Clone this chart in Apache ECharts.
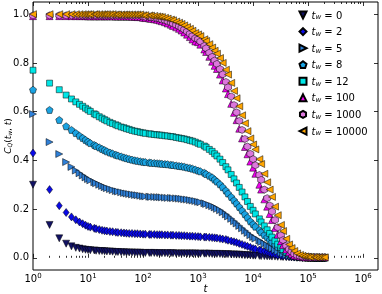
<!DOCTYPE html>
<html><head><meta charset="utf-8">
<script src="https://cdn.jsdelivr.net/npm/echarts@6/dist/echarts.min.js"></script>
<style>html,body{margin:0;padding:0;background:#fff}#c{width:382px;height:294px}</style>
</head><body><div id="c"></div><script>
// time grid (t): 1..9, then 20 points per decade
const T = [1,2,3,4,5,6,7,8,9,
  10,11,13,14,16,18,20,22,25,28,32,35,40,45,50,56,63,71,79,89,
  100,110,130,140,160,180,200,220,250,280,320,350,400,450,500,560,630,710,790,890,
  1000,1100,1300,1400,1600,1800,2000,2200,2500,2800,3200,3500,4000,4500,5000,5600,6300,7100,7900,8900,
  10000,11000,13000,14000,16000,18000,20000,22000,25000,28000,32000,35000,40000,45000,50000,56000,63000,71000,79000,89000,
  100000,110000,130000,140000,160000,180000,200000];
const TW_LABELS = ['0','2','5','8','12','100','1000','10000'];
const C_TW0 = [0.30,0.135,0.08,0.058,0.047,0.041,0.038,0.035,0.033,
  0.032,0.031,0.030,0.029,0.028,0.028,0.027,0.026,0.026,0.025,0.024,0.024,0.023,0.023,0.022,0.022,0.022,0.021,0.021,0.021,
  0.020,0.020,0.020,0.020,0.020,0.019,0.019,0.019,0.019,0.019,0.019,0.019,0.018,0.018,0.018,0.018,0.018,0.018,0.018,0.018,
  0.017,0.017,0.017,0.017,0.017,0.016,0.016,0.016,0.016,0.015,0.015,0.015,0.014,0.014,0.013,0.013,0.012,0.011,0.011,0.010,
  0.009,0.009,0.008,0.007,0.007,0.006,0.006,0.005,0.005,0.004,0.004,0.003,0.003,0.003,0.002,0.002,0.002,0.001,0.001,0.001,
  0.001,0.001,0,0,0,0,0];
const C_TW2 = [0.43,0.28,0.214,0.186,0.168,0.156,0.147,0.140,0.134,
  0.129,0.126,0.121,0.119,0.116,0.113,0.111,0.110,0.108,0.107,0.105,0.104,0.103,0.102,0.101,0.100,0.100,0.099,0.099,0.098,
  0.097,0.097,0.096,0.096,0.096,0.095,0.095,0.095,0.094,0.094,0.093,0.093,0.092,0.092,0.091,0.091,0.090,0.089,0.089,0.088,
  0.087,0.086,0.085,0.085,0.084,0.083,0.082,0.081,0.079,0.077,0.075,0.072,0.069,0.066,0.063,0.059,0.055,0.051,0.047,0.043,
  0.038,0.036,0.032,0.030,0.027,0.024,0.021,0.018,0.015,0.012,0.010,0.008,0.006,0.005,0.004,0.003,0.002,0.002,0.001,0.001,
  0.001,0,0,0,0,0,0];
const C_TW5 = [0.59,0.475,0.426,0.393,0.373,0.358,0.347,0.338,0.330,
  0.323,0.318,0.310,0.306,0.300,0.295,0.290,0.286,0.282,0.278,0.274,0.272,0.269,0.266,0.264,0.262,0.260,0.258,0.257,0.255,
  0.253,0.252,0.251,0.250,0.250,0.249,0.249,0.248,0.247,0.246,0.246,0.245,0.244,0.243,0.242,0.240,0.239,0.237,0.235,0.233,
  0.230,0.228,0.224,0.221,0.216,0.212,0.207,0.201,0.195,0.187,0.178,0.170,0.160,0.150,0.141,0.131,0.121,0.111,0.102,0.093,
  0.085,0.079,0.071,0.065,0.058,0.051,0.044,0.038,0.032,0.026,0.020,0.016,0.012,0.009,0.007,0.005,0.003,0.002,0.002,0.001,
  0.001,0.001,0,0,0,0,0];
const C_TW8 = [0.69,0.607,0.566,0.540,0.525,0.512,0.501,0.492,0.484,
  0.477,0.471,0.463,0.459,0.453,0.447,0.442,0.437,0.432,0.428,0.423,0.420,0.416,0.412,0.409,0.406,0.403,0.400,0.398,0.396,
  0.394,0.393,0.391,0.390,0.389,0.388,0.387,0.386,0.385,0.384,0.382,0.381,0.379,0.377,0.376,0.374,0.371,0.369,0.366,0.362,
  0.358,0.355,0.349,0.344,0.337,0.330,0.321,0.313,0.302,0.290,0.276,0.264,0.250,0.236,0.223,0.209,0.194,0.179,0.165,0.150,
  0.138,0.128,0.114,0.105,0.094,0.084,0.073,0.064,0.054,0.045,0.036,0.030,0.023,0.017,0.013,0.009,0.006,0.004,0.003,0.002,
  0.001,0.001,0,0,0,0,0];
const C_TW12 = [0.77,0.717,0.690,0.668,0.652,0.640,0.630,0.622,0.614,
  0.607,0.601,0.591,0.587,0.579,0.573,0.567,0.562,0.556,0.551,0.546,0.542,0.537,0.534,0.530,0.527,0.523,0.520,0.518,0.515,
  0.513,0.511,0.509,0.508,0.506,0.505,0.504,0.503,0.501,0.500,0.498,0.497,0.494,0.492,0.490,0.488,0.485,0.482,0.479,0.475,
  0.470,0.466,0.459,0.454,0.445,0.437,0.427,0.418,0.405,0.391,0.374,0.361,0.342,0.324,0.307,0.289,0.270,0.250,0.231,0.211,
  0.195,0.180,0.160,0.147,0.131,0.115,0.100,0.085,0.070,0.056,0.043,0.034,0.024,0.017,0.012,0.008,0.005,0.003,0.002,0.001,
  0.001,0,0,0,0,0,0];
const C_TW100 = [0.992,0.992,0.992,0.992,0.992,0.992,0.992,0.992,0.992,
  0.991,0.991,0.991,0.991,0.991,0.991,0.991,0.991,0.991,0.991,0.990,0.990,0.990,0.990,0.990,0.990,0.989,0.989,0.988,0.988,
  0.985,0.984,0.982,0.981,0.979,0.977,0.974,0.971,0.967,0.962,0.957,0.952,0.946,0.940,0.933,0.925,0.916,0.906,0.896,0.888,
  0.885,0.875,0.855,0.845,0.825,0.805,0.788,0.775,0.752,0.728,0.695,0.672,0.632,0.595,0.565,0.530,0.490,0.455,0.425,0.395,
  0.370,0.345,0.300,0.280,0.240,0.210,0.180,0.155,0.122,0.095,0.068,0.052,0.034,0.023,0.016,0.010,0.007,0.005,0.003,0.002,
  0.002,0.001,0.001,0.001,0.001,0.001,0.001];
const C_TW1000 = [0.995,0.995,0.995,0.995,0.995,0.995,0.995,0.995,0.995,
  0.995,0.995,0.995,0.995,0.995,0.995,0.995,0.995,0.995,0.995,0.995,0.995,0.995,0.995,0.995,0.995,0.994,0.994,0.994,0.994,
  0.990,0.989,0.988,0.987,0.985,0.983,0.981,0.978,0.975,0.971,0.966,0.962,0.956,0.950,0.944,0.937,0.929,0.920,0.911,0.901,
  0.897,0.888,0.870,0.860,0.842,0.825,0.810,0.796,0.775,0.753,0.722,0.700,0.662,0.627,0.597,0.562,0.525,0.488,0.457,0.427,
  0.405,0.380,0.340,0.320,0.280,0.245,0.215,0.190,0.155,0.125,0.092,0.073,0.050,0.035,0.025,0.016,0.010,0.007,0.005,0.004,
  0.003,0.002,0.002,0.002,0.002,0.002,0.002];
const C_TW10000 = [1.0,1.0,1.0,1.0,1.0,1.0,1.0,1.0,1.0,
  1.0,1.0,1.0,1.0,1.0,1.0,1.0,1.0,1.0,1.0,0.999,0.999,0.999,0.999,0.999,0.999,0.999,0.999,0.999,0.999,
  0.996,0.996,0.995,0.994,0.993,0.991,0.990,0.988,0.985,0.982,0.978,0.975,0.970,0.965,0.960,0.954,0.947,0.940,0.932,0.923,
  0.917,0.910,0.897,0.890,0.877,0.863,0.850,0.838,0.820,0.800,0.772,0.752,0.718,0.685,0.655,0.622,0.585,0.552,0.520,0.490,
  0.465,0.445,0.405,0.385,0.345,0.310,0.280,0.250,0.210,0.175,0.135,0.110,0.078,0.055,0.040,0.028,0.018,0.012,0.008,0.006,
  0.004,0.003,0.003,0.002,0.002,0.002,0.002];
const X_TICKS = [1,10,100,1000,10000,100000,1000000];
const X_TICK_EXP = ['0','1','2','3','4','5','6'];
const Y_TICKS = [0,0.2,0.4,0.6,0.8,1.0];
const Y_TICK_LABELS = ['0.0','0.2','0.4','0.6','0.8','1.0'];

const VALUES = [C_TW0,C_TW2,C_TW5,C_TW8,C_TW12,C_TW100,C_TW1000,C_TW10000];
const COLORS = ['#121264','#0a0ae6','#2f80d8','#1aa3e2','#00e6e6','#f000f0','#dc78dc','#ffa500'];
const TRI_DOWN = 'path://M0,10 L-10,-10 L10,-10 Z';
const TRI_RIGHT = 'path://M10,0 L-10,-10 L-10,10 Z';
const TRI_LEFT = 'path://M-10,0 L10,-10 L10,10 Z';
const PENT = 'path://M0,-10 L9.51,-3.09 L5.88,8.09 L-5.88,8.09 L-9.51,-3.09 Z';
const HEX = 'path://M0,-10 L8.66,-5 L8.66,5 L0,10 L-8.66,5 L-8.66,-5 Z';
const SYMBOLS = [TRI_DOWN,'diamond',TRI_RIGHT,PENT,'rect','triangle',HEX,TRI_LEFT];
const SIZES = [[7,7],[6,8],[7,7],[7,7],[6,6],[7,7],[7,7],[7,7]];

const minor = [];
for (let e = 0; e < 6; e++) for (let m = 2; m <= 9; m++) minor.push(m * Math.pow(10, e));

const FONT = 'DejaVu Sans';
const XMIN = 1, XMAX = 1.86e6;

function xAxisDef(pos, ticks, len, labels) {
  return {
    type: 'log', logBase: 10, min: XMIN, max: XMAX, position: pos,
    axisLine: {show: false},
    splitLine: {show: false},
    axisTick: {show: true, inside: true, length: len, customValues: ticks, lineStyle: {color: '#000', width: 0.8}},
    axisLabel: labels ? {
      show: true, customValues: X_TICKS, margin: 3,
      formatter: v => { const i = X_TICKS.indexOf(v); const idx = i >= 0 ? i : Math.round(Math.log10(v)); return '{b|10}{e|' + X_TICK_EXP[idx] + '}'; },
      rich: {
        b: {fontFamily: FONT, fontSize: 10, color: '#000', verticalAlign: 'bottom', lineHeight: 11},
        e: {fontFamily: FONT, fontSize: 7, color: '#000', verticalAlign: 'top', lineHeight: 11, padding: [0,0,3,0]}
      }
    } : {show: false}
  };
}

const series = VALUES.map((vals, k) => ({
  name: 'tw' + TW_LABELS[k],
  type: 'scatter',
  xAxisIndex: 0, yAxisIndex: 0,
  symbol: SYMBOLS[k], symbolSize: SIZES[k],
  itemStyle: {color: COLORS[k], borderColor: '#000', borderWidth: 0.5, opacity: 1},
  data: T.map((t, i) => [t, vals[i]]),
  clip: true, z: 2 + k
}));

const chart = echarts.init(document.getElementById('c'), null, {renderer: 'canvas'});
chart.setOption({
  animation: false,
  backgroundColor: '#fff',
  grid: {left: 33, right: 4, top: 2, bottom: 24, show: true, borderColor: '#000', borderWidth: 1,
    backgroundColor: 'transparent', outerBoundsMode: 'none', containLabel: false},
  xAxis: [
    Object.assign(xAxisDef('bottom', X_TICKS, 4, true), {
      name: '{i|t}', nameLocation: 'middle', nameGap: 14, nameMoveOverlap: false,
      nameTextStyle: {rich: {i: {fontFamily: FONT, fontStyle: 'italic', fontSize: 10, color: '#000'}}}
    }),
    xAxisDef('bottom', minor, 2, false),
    xAxisDef('top', X_TICKS, 4, false),
    xAxisDef('top', minor, 2, false)
  ],
  yAxis: [
    {
      type: 'value', min: -0.05, max: 1.05, position: 'left',
      axisLine: {show: false}, splitLine: {show: false},
      axisTick: {show: true, inside: true, length: 4, customValues: Y_TICKS, lineStyle: {color: '#000', width: 0.8}},
      axisLabel: {show: true, customValues: Y_TICKS, margin: 4, fontFamily: FONT, fontSize: 10, color: '#000',
        formatter: v => { const i = Y_TICKS.findIndex(y => Math.abs(y - v) < 1e-9); return i >= 0 ? Y_TICK_LABELS[i] : ''; }},
      name: '{i|C}{s|Q}{n|(}{i|t}{s|w}{n|, }{i|t}{n|)}', nameLocation: 'middle', nameGap: 20, nameRotate: 90, nameMoveOverlap: false,
      nameTextStyle: {rich: {
        i: {fontFamily: FONT, fontStyle: 'italic', fontSize: 9, color: '#000', verticalAlign: 'bottom', lineHeight: 12},
        s: {fontFamily: FONT, fontStyle: 'italic', fontSize: 6, color: '#000', verticalAlign: 'bottom', lineHeight: 9},
        n: {fontFamily: FONT, fontSize: 9, color: '#000', verticalAlign: 'bottom', lineHeight: 12}
      }}
    },
    {
      type: 'value', min: -0.05, max: 1.05, position: 'right',
      axisLine: {show: false}, splitLine: {show: false},
      axisTick: {show: true, inside: true, length: 4, customValues: Y_TICKS, lineStyle: {color: '#000', width: 0.8}},
      axisLabel: {show: false}
    }
  ],
  legend: {
    show: true, orient: 'vertical', left: 298.5, top: 10.5, padding: 0,
    itemWidth: 7, itemHeight: 7, itemGap: 6.1,
    data: series.map((s, k) => ({name: s.name, icon: SYMBOLS[k]})),
    formatter: name => '{i|t}{s|w}{n| = ' + name.slice(2) + '}',
    textStyle: {
      padding: [0,0,0,0],
      rich: {
        i: {fontFamily: FONT, fontStyle: 'italic', fontSize: 10, color: '#000', verticalAlign: 'bottom', lineHeight: 12},
        s: {fontFamily: FONT, fontStyle: 'italic', fontSize: 7, color: '#000', verticalAlign: 'bottom', lineHeight: 9},
        n: {fontFamily: FONT, fontSize: 10, color: '#000', verticalAlign: 'bottom', lineHeight: 12}
      }
    }
  },
  series: series
});
</script></body></html>
